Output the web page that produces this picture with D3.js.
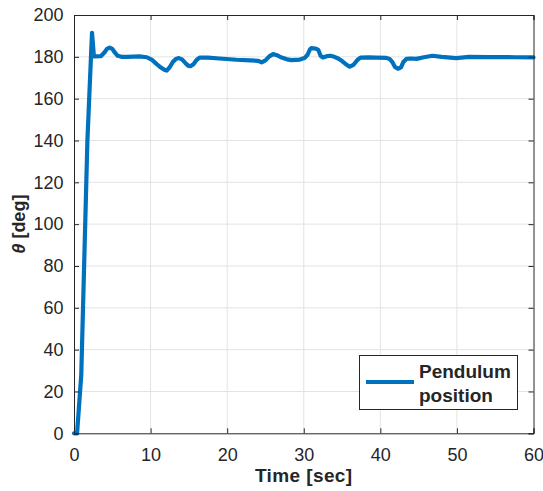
<!DOCTYPE html>
<html><head><meta charset="utf-8">
<script src="https://cdn.jsdelivr.net/npm/d3@7"></script>
<style>body{margin:0;background:#fff}svg{display:block}text{font-family:"Liberation Sans",Arial,sans-serif;fill:#262626}</style>
</head><body>
<script>
const times = [0,0.4,0.95,1.75,2.35,2.6,3.5,4.0,4.3,4.65,5.0,5.3,5.7,6.2,7,8.5,9.5,10.2,10.8,11.3,11.8,12.1,12.5,12.9,13.3,13.7,14.1,14.5,14.9,15.2,15.6,16.0,16.4,17.5,19.0,21.2,23.0,24.0,24.5,25.0,25.5,26.0,26.5,27.0,27.8,28.4,29.5,30.1,30.5,30.8,31.0,31.5,31.9,32.2,32.5,33.0,33.5,34.0,34.5,35.0,35.5,36.0,36.5,37.0,37.4,38.5,39.5,40.8,41.2,41.6,41.9,42.3,42.7,43.0,43.4,44.0,44.7,45.7,46.8,48,49.9,51.6,54,57.7,60];
const theta = [0,0,28,140,191.5,180.2,180.3,182.2,183.8,184.4,183.8,182.2,180.5,180,180,180.2,179.8,178.5,176.5,175,173.8,173.4,175,177.5,179,179.4,178.8,177.2,175.8,175.5,176.5,178.5,179.6,179.6,179.2,178.6,178.3,178.1,177.4,178.3,180.2,181.3,180.8,179.8,178.8,178.4,178.7,179.4,181,183.5,184.2,184,183.3,180.5,179.7,180.3,180.5,180,179.2,178,176.5,175.3,176.2,178.5,179.6,179.7,179.6,179.5,179,177.3,175.2,174.3,175,177.5,179,179.2,179,179.8,180.5,180,179.4,180,179.9,179.8,179.7];
const xTicks = [0,10,20,30,40,50,60];
const yTicks = [0,20,40,60,80,100,120,140,160,180,200];
const seriesName = ["Pendulum","position"];

const W=543,H=491, L=74, R=533.5, T=15, B=433.3;
const svg=d3.select("body").append("svg").attr("width",W).attr("height",H);
const x=d3.scaleLinear().domain([0,60]).range([L,R]);
const y=d3.scaleLinear().domain([0,200]).range([B,T]);

const grid=svg.append("g").attr("stroke","#e3e3e3").attr("stroke-width",1);
xTicks.slice(1,-1).forEach(t=>grid.append("line").attr("x1",x(t)).attr("x2",x(t)).attr("y1",T).attr("y2",B));
yTicks.slice(1,-1).forEach(t=>grid.append("line").attr("x1",L).attr("x2",R).attr("y1",y(t)).attr("y2",y(t)));

const data=times.map((t,i)=>[t,theta[i]]);
svg.append("path").datum(data).attr("fill","none").attr("stroke","#0072BD").attr("stroke-width",4.2)
  .attr("stroke-linejoin","round").attr("stroke-linecap","round")
  .attr("d",d3.line().x(d=>x(d[0])).y(d=>y(d[1])));

const fmt=d3.format("d");
const ax=svg.append("g").attr("transform",`translate(0,${B})`).call(d3.axisBottom(x).tickValues(xTicks).tickSize(-5).tickPadding(14.5).tickFormat(fmt));
const axT=svg.append("g").attr("transform",`translate(0,${T})`).call(d3.axisTop(x).tickValues(xTicks).tickSize(-5).tickFormat(""));
const ay=svg.append("g").attr("transform",`translate(${L},0)`).call(d3.axisLeft(y).tickValues(yTicks).tickSize(-5).tickPadding(10.5).tickFormat(fmt));
const ayR=svg.append("g").attr("transform",`translate(${R},0)`).call(d3.axisRight(y).tickValues(yTicks).tickSize(-5).tickFormat(""));
[ax,axT,ay,ayR].forEach(g=>{g.select(".domain").attr("stroke","#262626");g.selectAll(".tick line").attr("stroke","#262626");
  g.selectAll("text").attr("font-size",18).attr("fill","#262626").attr("font-family","Liberation Sans, Arial, sans-serif");});

svg.append("text").attr("x",(L+R)/2).attr("y",482).attr("text-anchor","middle").attr("font-size",19).attr("letter-spacing",0.4).attr("font-weight","bold").text("Time [sec]");
const yl=svg.append("text").attr("transform",`translate(25,${(T+B)/2}) rotate(-90)`).attr("text-anchor","middle").attr("font-size",18).attr("font-weight","bold");
yl.append("tspan").attr("font-style","italic").text("θ");
yl.append("tspan").text(" [deg]");

const lg=svg.append("g");
lg.append("rect").attr("x",359.5).attr("y",355.5).attr("width",158).attr("height",54).attr("fill","#fff").attr("stroke","#262626").attr("stroke-width",1);
lg.append("line").attr("x1",366).attr("x2",414).attr("y1",382).attr("y2",382).attr("stroke","#0072BD").attr("stroke-width",4.2);
lg.append("text").attr("x",419).attr("y",378).attr("font-size",19).attr("font-weight","bold").attr("fill","#000").text(seriesName[0]);
lg.append("text").attr("x",419).attr("y",401.5).attr("font-size",19).attr("font-weight","bold").attr("fill","#000").text(seriesName[1]);
</script>
</body></html>
